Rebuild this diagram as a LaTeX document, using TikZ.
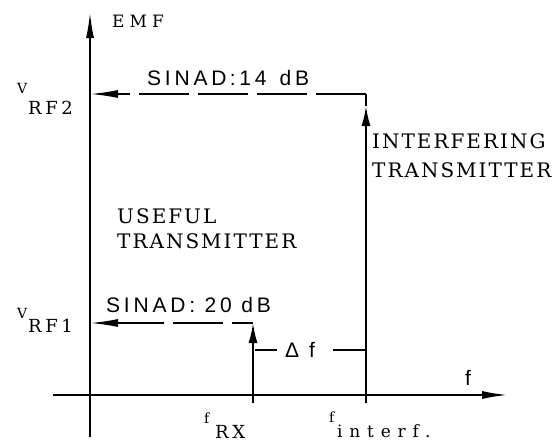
\documentclass[tikz,border=0pt]{standalone}
\usepackage{fontspec}
\usetikzlibrary{arrows.meta}
\newfontfamily\labserif[LetterSpace=10]{DejaVu Serif}
\newfontfamily\labsans[LetterSpace=18]{Liberation Sans}
\begin{document}
\begin{tikzpicture}[x=1pt,y=-1pt,
  axis/.style={line width=2pt,-{Latex[length=26pt,width=8pt]}},
  vline/.style={line width=1.8pt},
  varrow/.style={vline,-{Latex[length=20pt,width=9pt]}},
  dashline/.style={line width=1.8pt,dash pattern=on 50pt off 9pt,-{Latex[length=28pt,width=8pt]}},
  dimline/.style={line width=1.6pt},
  serif/.style={inner sep=0pt,font=\labserif\fontsize{20}{20}\selectfont},
  small/.style={inner sep=0pt,font=\labserif\fontsize{14}{14}\selectfont},
  sub/.style={inner sep=0pt,font=\labserif\fontsize{18}{18}\selectfont\addfontfeature{LetterSpace=20}},
  sans/.style={inner sep=0pt,font=\labsans\fontsize{21}{21}\selectfont}]
\useasboundingbox (0,0) rectangle (560,442);
% coordinates
\coordinate (ytop) at (90,12);
\coordinate (ybot) at (90,437);
\coordinate (xl) at (53,395);
\coordinate (xr) at (508,395);
\coordinate (rxb) at (253,403);
\coordinate (c1) at (253,323);
\coordinate (a1) at (90,323);
\coordinate (ifb) at (366,403);
\coordinate (iftip) at (366,106);
\coordinate (c2) at (366,94);
\coordinate (a2) at (90,94);
\coordinate (d1a) at (255,350);
\coordinate (d1b) at (277,350);
\coordinate (d2a) at (333,350);
\coordinate (d2b) at (366,350);
% axes
\draw[axis] (xl) -- (xr);
\draw[axis] (ybot) -- (ytop);
% useful transmitter
\draw[varrow] (rxb) -- (c1);
\draw[dashline,dash phase=29pt] (c1) -- (a1);
% interfering transmitter
\draw[varrow] (ifb) -- (iftip);
\draw[vline] (iftip) -- (c2);
\draw[dashline] (c2) -- (a2);
% delta f
\draw[dimline] (d1a) -- (d1b);
\draw[dimline] (d2a) -- (d2b);
% labels
\node[serif,anchor=base west,font=\labserif\fontsize{17}{17}\selectfont\addfontfeature{LetterSpace=30}] (emf) at (112,27) {EMF};
\node[small,anchor=base west] (v2) at (17,93) {V};
\node[sub,anchor=base west] (rf2) at (28,114) {RF2};
\node[small,anchor=base west] (v1) at (17,318) {V};
\node[sub,anchor=base west] (rf1) at (28,332) {RF1};
\node[sans,anchor=base west] (s14) at (147,85) {SINAD\,:\,14 \,dB};
\node[sans,anchor=base west] (s20) at (106,312) {SINAD: 20 dB};
\node[serif,anchor=base west] (use1) at (117,223) {USEFUL};
\node[serif,anchor=base west] (use2) at (117,248) {TRANSMITTER};
\node[serif,anchor=base west] (int1) at (372,148) {INTERFERING};
\node[serif,anchor=base west] (int2) at (372,177) {TRANSMITTER};
\node[sans,anchor=base west] (df) at (285,357) {Δ\hspace{10pt}f};
\node[sans,anchor=base west] (fx) at (465,385) {f};
\node[small,anchor=base west] (frx) at (204,423) {f};
\node[sub,anchor=base west] (rx) at (215,438) {RX};
\node[small,anchor=base west] (fif) at (329,422) {f};
\node[sub,anchor=base west,font=\labserif\fontsize{17}{17}\selectfont\addfontfeature{LetterSpace=40}] (interf) at (337,437) {interf.};
\end{tikzpicture}
\end{document}
